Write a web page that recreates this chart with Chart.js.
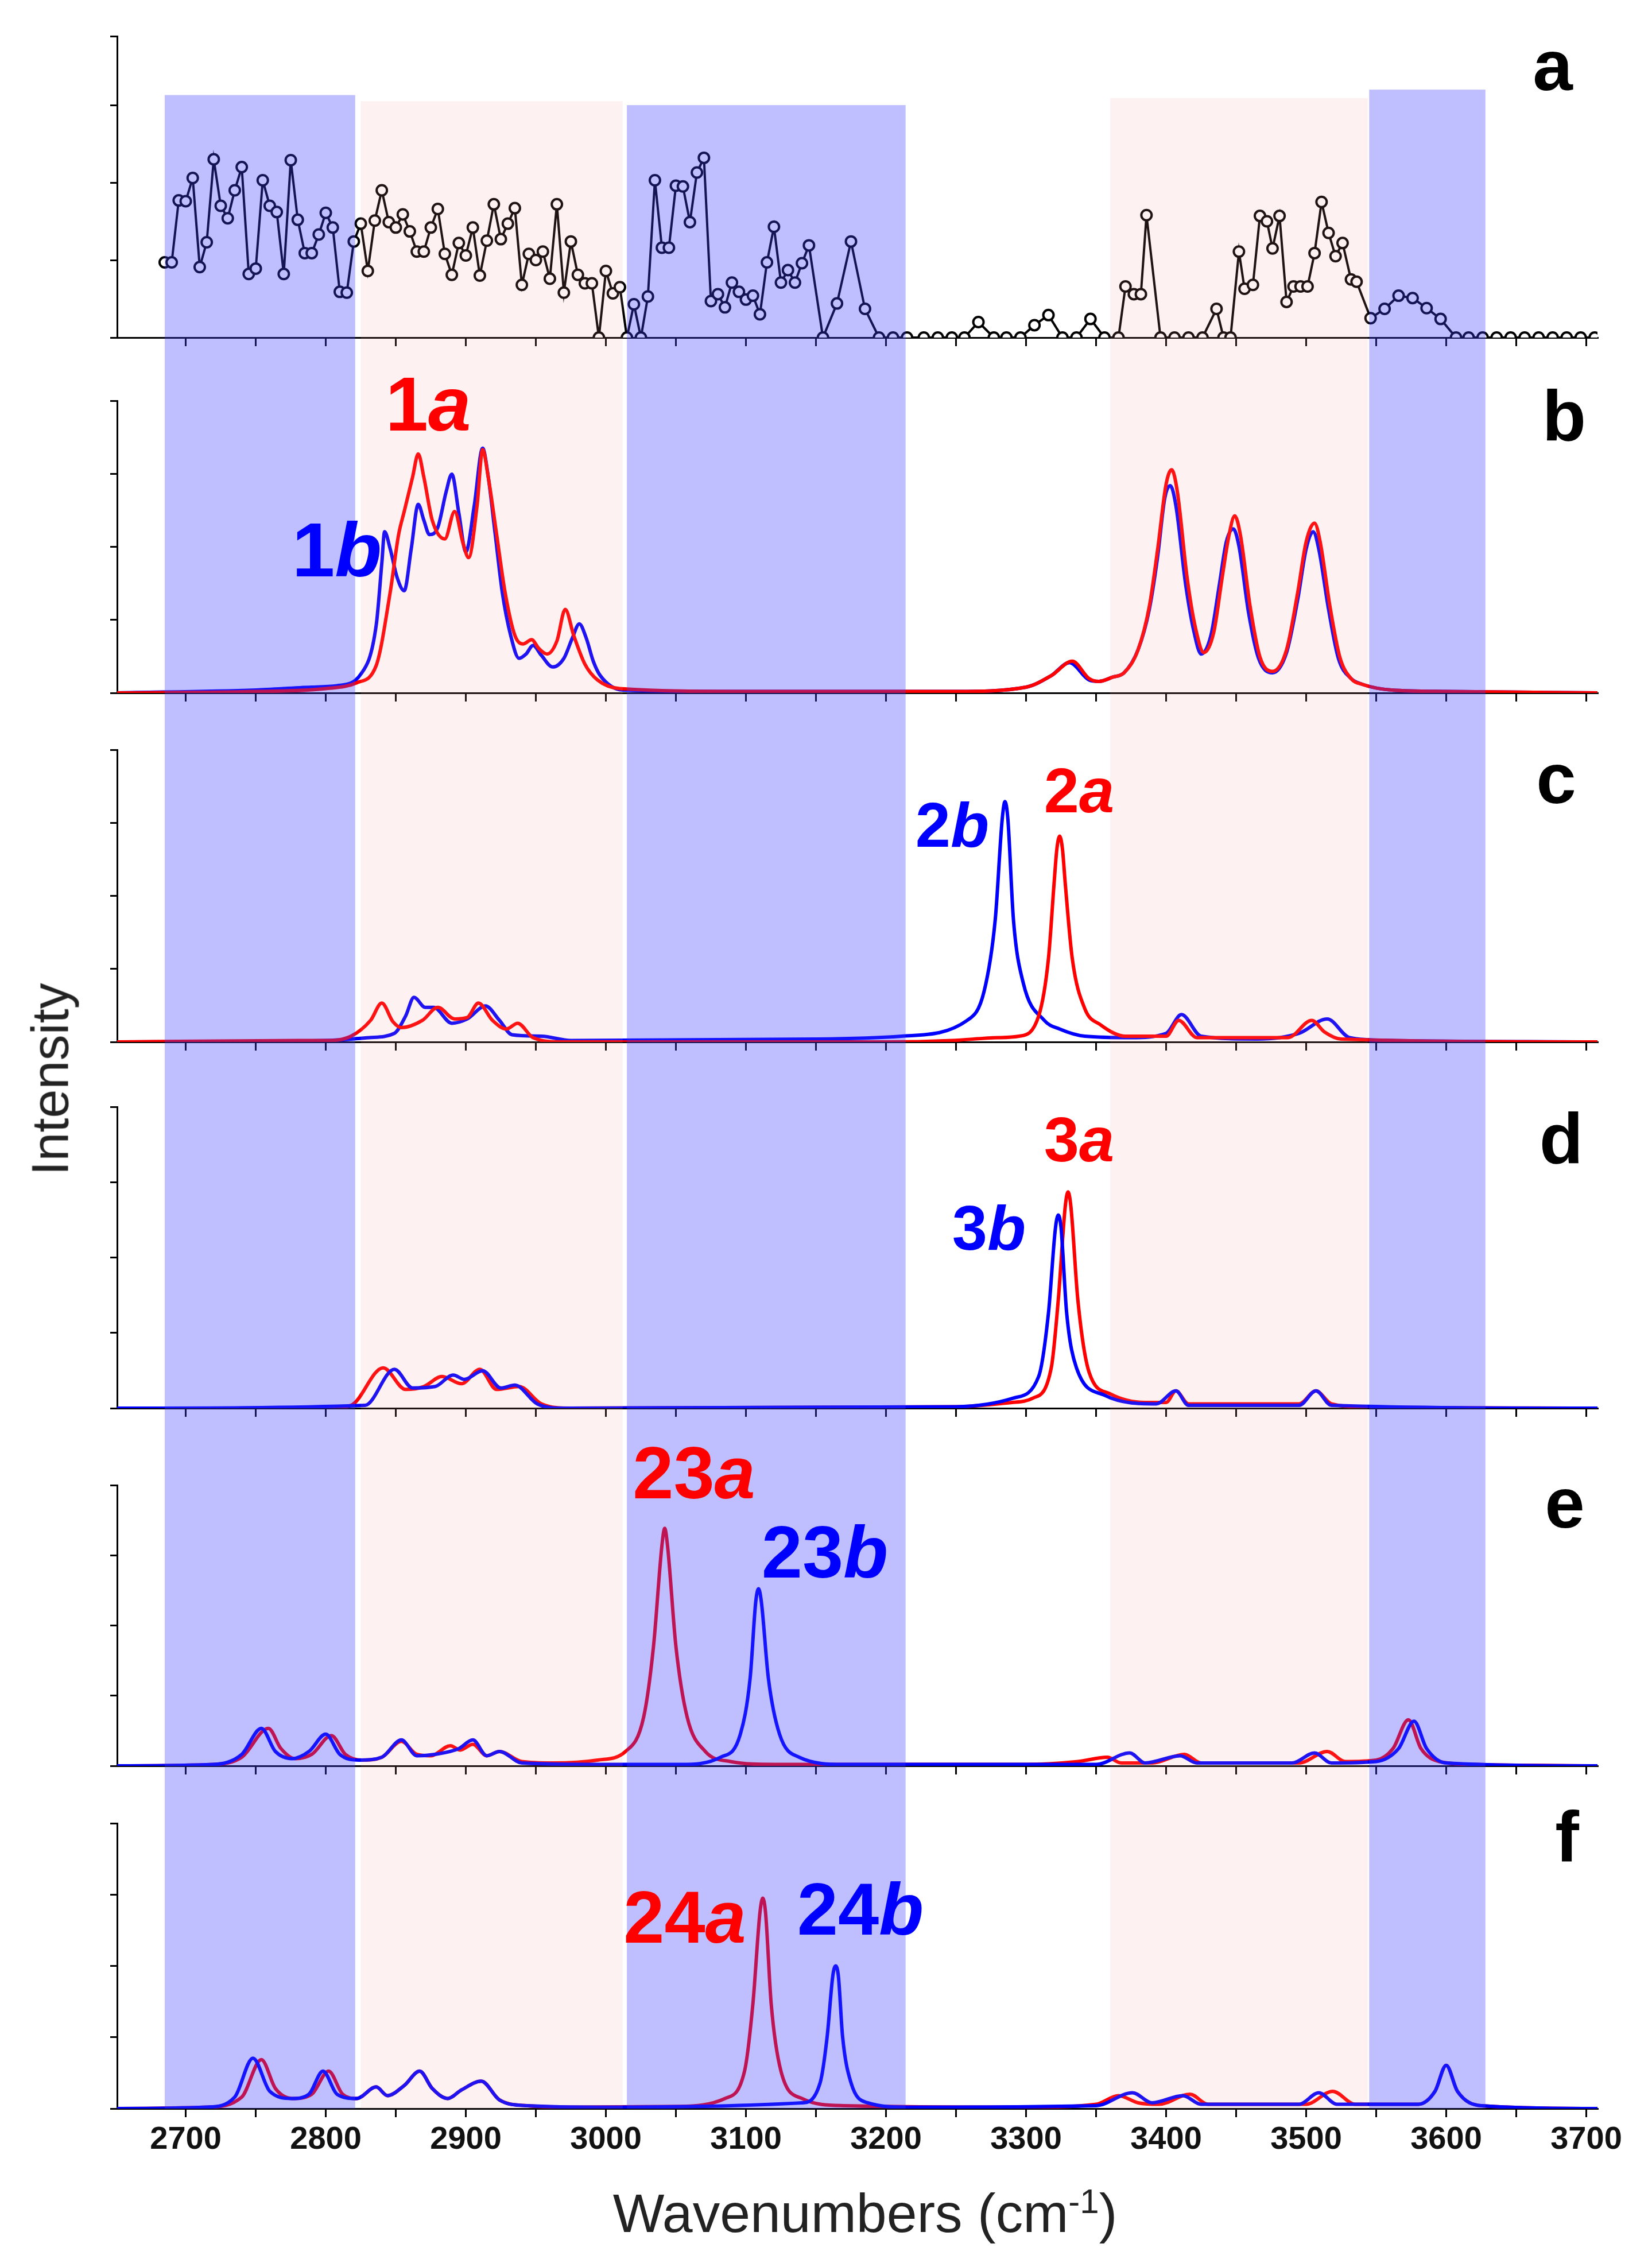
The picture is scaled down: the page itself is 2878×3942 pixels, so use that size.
<!DOCTYPE html>
<html>
<head>
<meta charset="utf-8">
<script src="https://cdn.jsdelivr.net/npm/chart.js@4"></script>
<style>
  body { margin: 0; background: #fff; width: 2878px; height: 3942px; position: relative; overflow: hidden; font-family: "Liberation Sans", Arial, sans-serif; }
  canvas { position: absolute; left: 0; }
  .lbl { position: absolute; transform: translate(-50%, -50%); font-weight: bold; white-space: nowrap; line-height: 1; }
  .lbl i { font-style: italic; }
  .panel { font-size: 125px; color: #000; }
  .red { color: #ff0000; }
  .blue { color: #0000ff; }
</style>
</head>
<body>
<canvas id="pa" width="2878" height="640" style="top:0px"></canvas>
<canvas id="pb" width="2878" height="617" style="top:640px"></canvas>
<canvas id="pc" width="2878" height="613" style="top:1257px"></canvas>
<canvas id="pd" width="2878" height="650" style="top:1870px"></canvas>
<canvas id="pe" width="2878" height="605" style="top:2520px"></canvas>
<canvas id="pf" width="2878" height="817" style="top:3125px"></canvas>

<div class="lbl panel" style="left:2705px;top:113px">a</div>
<div class="lbl panel" style="left:2725px;top:723px">b</div>
<div class="lbl panel" style="left:2711px;top:1355px">c</div>
<div class="lbl panel" style="left:2720px;top:1982px">d</div>
<div class="lbl panel" style="left:2726px;top:2617px">e</div>
<div class="lbl panel" style="left:2730px;top:3198px">f</div>

<div class="lbl red" style="left:746px;top:704px;font-size:134px">1<i>a</i></div>
<div class="lbl blue" style="left:587px;top:958px;font-size:134px">1<i>b</i></div>
<div class="lbl blue" style="left:1659px;top:1437px;font-size:110px">2<i>b</i></div>
<div class="lbl red" style="left:1880px;top:1377px;font-size:110px">2<i>a</i></div>
<div class="lbl red" style="left:1880px;top:1985px;font-size:110px">3<i>a</i></div>
<div class="lbl blue" style="left:1723px;top:2139px;font-size:110px">3<i>b</i></div>
<div class="lbl red" style="left:1209px;top:2566px;font-size:128px">23<i>a</i></div>
<div class="lbl blue" style="left:1437px;top:2704px;font-size:128px">23<i>b</i></div>
<div class="lbl red" style="left:1193px;top:3340px;font-size:128px">24<i>a</i></div>
<div class="lbl blue" style="left:1499px;top:3326px;font-size:128px">24<i>b</i></div>

<div style="position:absolute;left:88px;top:1880px;transform:translate(-50%,-50%) rotate(-90deg);font-size:90px;color:#222;white-space:nowrap">Intensity</div>
<div style="position:absolute;left:1507px;top:3855px;transform:translate(-50%,-50%);font-size:95px;color:#222;white-space:nowrap">Wavenumbers (cm<sup style="font-size:60px">-1</sup>)</div>

<script>
// x range (cm-1)
const X_MIN = 2651;
const X_MAX = 3708;

// shaded regions: [from, to, top in panel-a units]
const blueBands = [[2685, 2821, 3.13], [3015, 3214, 3.0], [3545, 3628, 3.2]];
const pinkBands = [[2825, 3012, 3.05], [3360, 3544, 3.09]];

// panel a: scatter line
const aX = [2685,2690,2695,2700,2705,2710,2715,2720,2725,2730,2735,2740,2745,2750,2755,2760,2765,2770,2775,2780,
  2785,2790,2795,2800,2805,2810,2815,2820,2825,2830,2835,2840,2845,2850,2855,2860,2865,2870,2875,2880,
  2885,2890,2895,2900,2905,2910,2915,2920,2925,2930,2935,2940,2945,2950,2955,2960,2965,2970,2975,2980,
  2985,2990,2995,3000,3005,3010,3015,3020,3025,3030,3035,3040,3045,3050,3055,3060,3065,3070,3075,3080,
  3085,3090,3095,3100,3105,3110,3115,3120,3125,3130,3135,3140,3145,
  3155,3165,3175,3185,3195,3205,3215,3227,3237,3247,3256,3266,3277,3286,3296,3306,3316,3326,3336,3346,
  3356,3366,3371,3377,3382,3386,3396,3406,3416,3426,3436,3441,3446,3452,3456,3462,3467,3472,3476,3481,
  3486,3491,3496,3501,3506,3511,3516,3521,3526,3532,3536,3546,3556,3566,3576,3586,3596,3607,3616,3626,
  3636,3646,3656,3666,3676,3686,3696,3706];
const aY = [0.97,0.97,1.77,1.76,2.06,0.91,1.23,2.30,1.70,1.54,1.90,2.20,0.82,0.89,2.03,1.70,1.62,0.82,2.29,1.52,
  1.09,1.09,1.33,1.61,1.42,0.59,0.58,1.24,1.47,0.86,1.51,1.90,1.49,1.42,1.59,1.37,1.11,1.11,1.42,1.66,
  1.08,0.81,1.22,1.06,1.42,0.80,1.25,1.72,1.27,1.47,1.67,0.68,1.08,1.00,1.11,0.76,1.72,0.58,1.24,0.81,
  0.70,0.70,0,0.86,0.57,0.65,0,0.43,0,0.53,2.03,1.16,1.16,1.96,1.95,1.49,2.13,2.32,0.47,0.56,
  0.39,0.71,0.59,0.49,0.54,0.30,0.97,1.43,0.71,0.87,0.71,0.96,1.19,
  0,0.44,1.24,0.37,0,0,0,0,0,0,0,0.2,0,0,0,0.16,0.29,0,0,0.24,
  0,0,0.66,0.56,0.56,1.58,0,0,0,0,0.37,0,0,1.11,0.63,0.68,1.57,1.5,1.15,1.57,
  0.46,0.66,0.66,0.66,1.09,1.75,1.35,1.05,1.22,0.75,0.72,0.25,0.37,0.54,0.51,0.38,0.24,0,0,0,
  0,0,0,0,0,0,0,0];

// panel b
const bRed = [[2651,0],[2750,1],[2800,3],[2822,7],[2836,19],[2846,70],[2852,110],[2856,126],[2862,150],[2866,166],[2870,150],
  [2876,120],[2885,107],[2892,126],[2898,104],[2902,94],[2908,130],[2912,169],[2916,150],[2922,110],[2928,70],[2935,40],
  [2941,34],[2947,37],[2952,31],[2958,27],[2965,36],[2971,58],[2977,40],[2985,20],[2994,9],[3010,3],[3100,1],[3250,1],
  [3300,4],[3318,12],[3333,22],[3345,10],[3352,8],[3362,11],[3370,14],[3380,30],[3388,60],[3394,100],[3400,145],[3404,155],
  [3408,140],[3415,80],[3421,45],[3427,28],[3434,42],[3440,80],[3445,110],[3449,123],[3453,110],[3460,60],[3467,25],
  [3476,15],[3486,30],[3494,70],[3500,105],[3506,118],[3510,105],[3517,60],[3524,25],[3532,10],[3540,6],[3561,2],[3600,1],[3708,0]];
const bBlue = [[2651,0],[2750,2],[2790,4],[2808,5],[2825,13],[2836,47],[2840,90],[2842,112],[2846,100],[2851,80],[2856,71],
  [2861,100],[2866,131],[2870,120],[2874,110],[2880,115],[2886,140],[2890,152],[2895,125],[2900,98],[2906,130],[2912,170],
  [2916,150],[2921,110],[2926,70],[2932,40],[2938,24],[2943,27],[2948,33],[2954,26],[2962,18],[2970,24],[2976,38],
  [2981,48],[2986,38],[2991,22],[2996,12],[3012,2],[3100,1],[3250,1],[3300,4],[3318,12],[3331,21],[3345,9],[3352,8],
  [3362,11],[3370,14],[3380,30],[3388,58],[3394,95],[3399,135],[3403,144],[3407,130],[3414,75],[3420,42],[3425,27],
  [3432,40],[3438,75],[3443,105],[3448,114],[3452,102],[3459,55],[3466,24],[3476,14],[3486,28],[3494,65],[3500,100],
  [3505,112],[3509,100],[3516,58],[3523,24],[3532,10],[3540,6],[3561,2],[3600,1],[3708,0]];

// panel c
const cRed = [[2651,0],[2780,1],[2800,1],[2818,4],[2832,15],[2840,27],[2848,14],[2854,10],[2869,15],[2880,24],[2892,16],
  [2901,17],[2909,27],[2919,15],[2929,9],[2937,13],[2948,3],[2969,0],[3200,0],[3247,1],[3280,3],[3295,4],[3309,18],
  [3316,58],[3320,110],[3322,134],[3324,143],[3326,134],[3328,110],[3333,58],[3342,23],[3353,12],[3371,4],[3400,4],[3409,15],[3422,3],
  [3487,3],[3504,15],[3513,7],[3525,2],[3708,0]];
const cBlue = [[2651,0],[2800,1],[2831,3],[2849,6],[2857,18],[2863,31],[2871,24],[2877,24],[2890,13],[2901,16],[2914,25],
  [2924,15],[2933,5],[2954,4],[2975,1],[3150,2],[3211,4],[3258,15],[3270,35],[3278,85],[3283,155],[3285,167],[3287,155],[3291,85],[3298,41],
  [3313,15],[3324,9],[3342,4],[3375,3],[3400,6],[3411,19],[3425,4],[3465,2],[3495,6],[3515,16],[3531,3],[3560,1],[3708,0]];

// panel d
const dRed = [[2651,0],[2800,0],[2818,2],[2841,28],[2857,13],[2870,15],[2883,22],[2897,17],[2910,27],[2922,13],[2938,15],
  [2954,3],[2975,0],[3250,1],[3290,4],[3305,7],[3318,28],[3323,75],[3328,140],[3330,150],[3332,140],[3337,75],[3345,25],[3360,10],[3385,4],
  [3400,4],[3407,12],[3416,3],[3495,3],[3507,12],[3518,3],[3540,1],[3708,0]];
const dBlue = [[2651,0],[2828,2],[2849,27],[2862,14],[2878,15],[2891,23],[2899,20],[2912,26],[2925,14],[2935,16],[2951,3],
  [2970,0],[3250,1],[3291,7],[3309,22],[3316,66],[3321,125],[3323,134],[3325,125],[3329,66],[3336,28],[3356,9],[3393,3],[3407,12],[3416,2],
  [3495,2],[3507,12],[3518,2],[3708,0]];

// panel e
const eRed = [[2651,0],[2720,1],[2740,6],[2759,26],[2768,12],[2778,5],[2790,8],[2804,21],[2814,8],[2826,4],[2840,6],
  [2854,17],[2865,8],[2875,7],[2889,14],[2896,11],[2905,15],[2915,7],[2924,10],[2940,3],[2962,2],[2994,4],[3014,10],
  [3027,34],[3034,83],[3040,153],[3042,165],[3044,153],[3050,83],[3058,34],[3071,10],[3089,3],[3120,1],[3300,1],[3337,3],[3358,6],[3368,2],
  [3390,2],[3413,8],[3425,2],[3495,2],[3515,10],[3528,3],[3550,4],[3562,12],[3573,32],[3582,12],[3595,3],[3620,1],[3708,0]];
const eBlue = [[2651,0],[2720,1],[2740,8],[2754,26],[2764,10],[2776,5],[2788,10],[2800,22],[2810,8],[2824,4],[2840,6],
  [2854,18],[2865,7],[2878,8],[2895,12],[2905,18],[2915,7],[2924,10],[2940,2],[3000,1],[3053,1],[3082,6],[3096,22],
  [3103,61],[3107,114],[3109,123],[3111,114],[3116,61],[3124,22],[3138,6],[3170,1],[3350,1],[3374,9],[3385,2],[3410,7],[3422,2],[3490,2],
  [3506,9],[3518,2],[3550,3],[3566,12],[3577,31],[3586,12],[3600,2],[3708,0]];

// panel f
const fRed = [[2651,0],[2715,1],[2740,8],[2754,34],[2764,14],[2776,7],[2790,10],[2802,26],[2812,10],[2822,7],[2836,15],
  [2844,9],[2856,16],[2867,26],[2876,14],[2887,7],[2897,13],[2911,19],[2924,6],[2944,2],[2980,1],[3053,1.5],[3085,7],
  [3099,26],[3105,73],[3110,136],[3112,146],[3114,136],[3118,73],[3125,26],[3140,7],[3170,2],[3300,1],[3350,3],[3366,9],[3380,4],[3395,3],
  [3417,10],[3430,3],[3500,3],[3519,12],[3535,3],[3580,3],[3592,12],[3600,30],[3608,12],[3625,2],[3708,0]];
const fBlue = [[2651,0],[2715,1],[2735,8],[2748,35],[2760,12],[2776,7],[2788,10],[2798,26],[2808,10],[2822,7],[2836,15],
  [2844,9],[2856,16],[2867,26],[2876,14],[2887,7],[2897,13],[2911,19],[2924,6],[2944,2],[3000,1],[3140,4],[3153,18],
  [3158,50],[3162,92],[3164,99],[3166,92],[3169,50],[3175,18],[3187,4],[3215,1],[3350,2],[3376,11],[3390,4],[3412,9],[3425,3],[3495,3],
  [3509,11],[3522,3],[3580,3],[3592,12],[3600,30],[3608,12],[3625,2],[3708,0]];

const RED = '#ff0000';
const BLUE = '#0000ff';

function toXY(arr) {
  return arr.map(p => ({ x: p[0], y: p[1] }));
}

function line(arr, color) {
  return {
    data: toXY(arr),
    borderColor: color,
    borderWidth: 6,
    pointRadius: 0,
    fill: false,
    cubicInterpolationMode: 'monotone'
  };
}

// semi transparent overlay for the shaded regions
const bandPlugin = {
  id: 'bands',
  afterDraw(chart, args, opts) {
    const ctx = chart.ctx;
    const xs = chart.scales.x;
    const ys = chart.scales.y;
    const bottom = opts.last ? chart.chartArea.bottom : chart.height;
    const paint = (list, color) => {
      ctx.fillStyle = color;
      list.forEach(b => {
        const x0 = xs.getPixelForValue(b[0]);
        const x1 = xs.getPixelForValue(b[1]);
        const top = opts.first ? ys.getPixelForValue(b[2]) : 0;
        ctx.fillRect(x0, top, x1 - x0, bottom - top);
      });
    };
    ctx.save();
    paint(blueBands, 'rgba(60, 60, 255, 0.33)');
    paint(pinkBands, 'rgba(240, 150, 150, 0.13)');
    ctx.restore();
  }
};

function makePanel(id, datasets, yMax, yStep, pad, axisH, first, last) {
  return new Chart(document.getElementById(id), {
    type: 'line',
    data: { datasets: datasets },
    plugins: [bandPlugin],
    options: {
      responsive: false,
      animation: false,
      devicePixelRatio: 1,
      layout: { padding: { top: pad[0], bottom: pad[1], left: 0, right: 95 } },
      plugins: {
        legend: { display: false },
        tooltip: { enabled: false },
        bands: { first: first, last: last }
      },
      scales: {
        x: {
          type: 'linear',
          min: X_MIN,
          max: X_MAX,
          afterFit: s => { s.height = axisH; },
          border: { color: '#000', width: 3 },
          grid: { drawOnChartArea: false, tickLength: 15, tickColor: '#000', lineWidth: 3 },
          ticks: {
            stepSize: 50,
            includeBounds: false,
            autoSkip: false,
            maxRotation: 0,
            padding: 6,
            color: '#111',
            font: { family: 'Liberation Sans', size: 56, weight: 'bold' },
            callback: v => (last && v % 100 === 0) ? String(v) : ''
          }
        },
        y: {
          min: 0,
          max: yMax,
          afterFit: s => { s.width = 204; },
          border: { color: '#000', width: 3 },
          grid: { drawOnChartArea: false, tickLength: 12, tickColor: '#000', lineWidth: 3 },
          ticks: { stepSize: yStep, callback: () => '', font: { size: 1 } }
        }
      }
    }
  });
}

const aSet = {
  data: aX.map((x, i) => ({ x: x, y: aY[i] })),
  borderColor: '#000',
  borderWidth: 4,
  pointRadius: 9,
  pointBackgroundColor: '#fff',
  pointBorderColor: '#000',
  pointBorderWidth: 4,
  tension: 0,
  fill: false
};

makePanel('pa', [aSet], 3.89, 1, [63, 32], 20, true, false);
makePanel('pb', [line(bRed, RED), line(bBlue, BLUE)], 203, 203 / 4, [58, 30], 20, false, false);
makePanel('pc', [line(cRed, RED), line(cBlue, BLUE)], 203, 203 / 4, [49, 35], 20, false, false);
makePanel('pd', [line(dBlue, BLUE), line(dRed, RED)], 209, 209 / 4, [58, 47], 20, false, false);
makePanel('pe', [line(eBlue, BLUE), line(eRed, RED)], 195, 195 / 4, [67, 29], 20, false, false);
makePanel('pf', [line(fBlue, BLUE), line(fRed, RED)], 198, 198 / 4, [51, 0], 269, false, true);
</script>
</body>
</html>
